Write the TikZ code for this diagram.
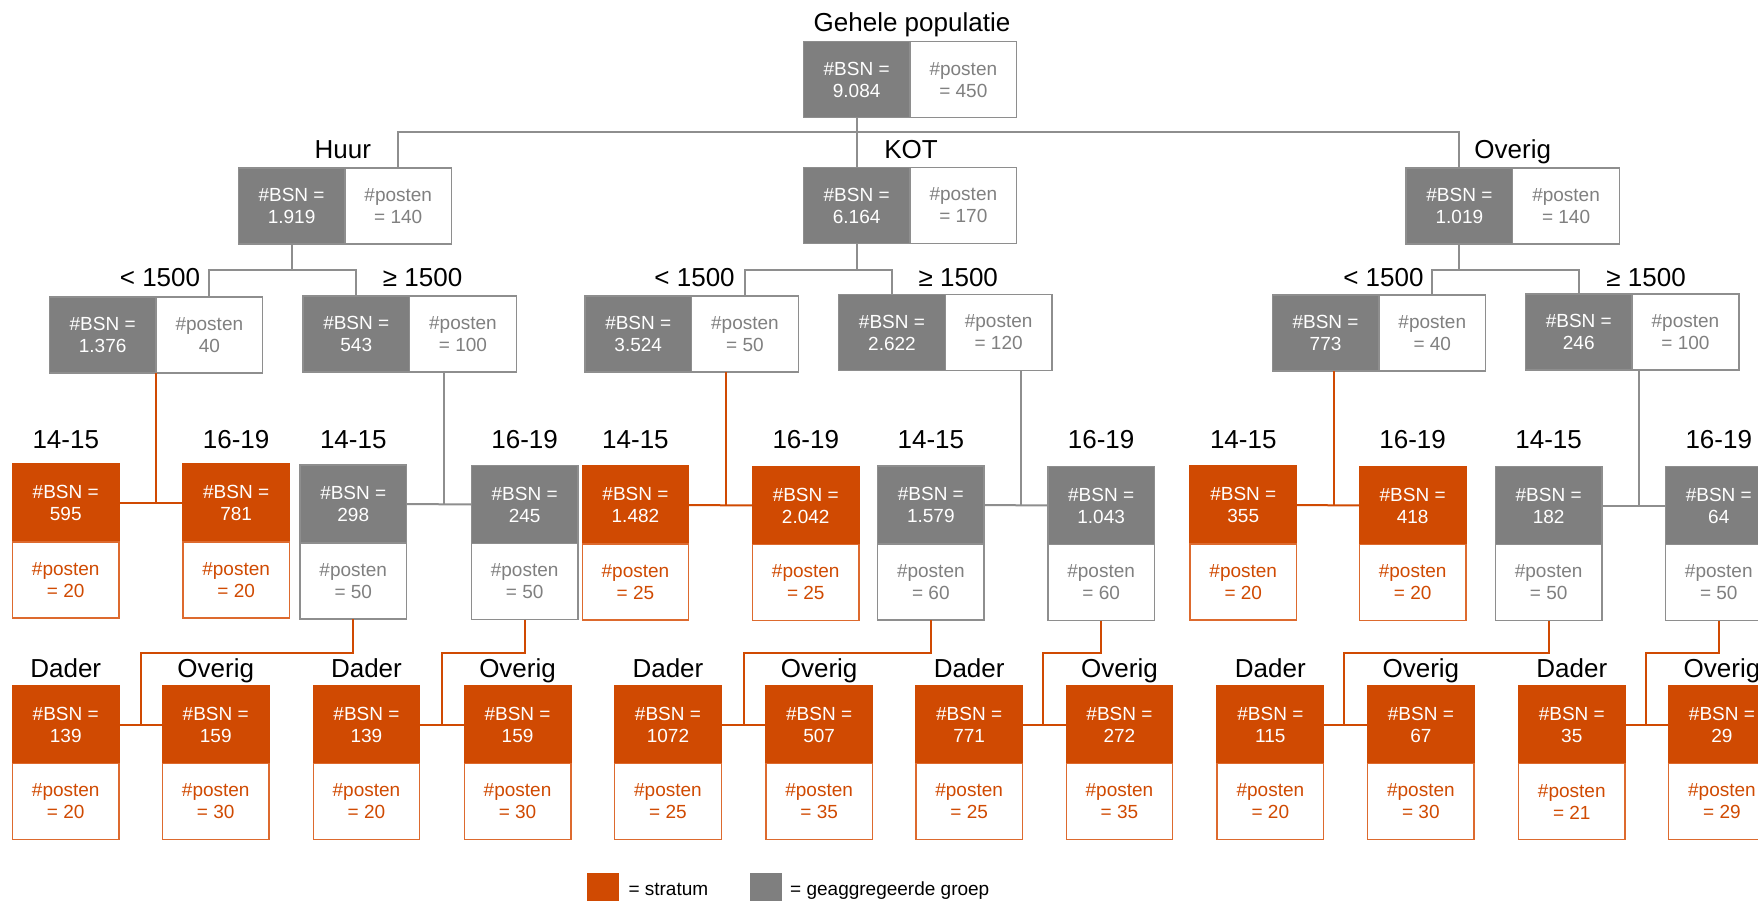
\documentclass[tikz,border=0pt]{standalone}
\usepackage{fontspec}
\setmainfont{Liberation Sans}
\usetikzlibrary{calc}
\definecolor{pwcor}{HTML}{D04A02}
\definecolor{orline}{HTML}{DD6A2E}
\definecolor{grfill}{HTML}{7F7F7F}
\definecolor{grline}{HTML}{8E8E8E}
\definecolor{grtext}{HTML}{808080}
\newcommand{\boxfont}{\fontsize{19}{22}\selectfont}
\newcommand{\labfont}{\fontsize{26}{30}\selectfont}
\tikzset{
  basebox/.style={anchor=north west, inner sep=0pt, outer sep=0pt, align=center, font=\boxfont, line width=1.4pt},
  hl/.style={basebox, fill=grfill, draw=grline, text=white, minimum width=106.7pt, minimum height=76pt},
  hr/.style={basebox, fill=white, draw=grline, text=grtext, minimum width=106.7pt, minimum height=76pt},
  vtor/.style={basebox, fill=pwcor, draw=pwcor, text=white, minimum width=106.5pt, minimum height=78pt},
  vbor/.style={basebox, fill=white, draw=orline, text=pwcor, minimum width=106.5pt, minimum height=76pt},
  vtgr/.style={basebox, fill=grfill, draw=grline, text=white, minimum width=106.5pt, minimum height=78pt},
  vbgr/.style={basebox, fill=white, draw=grline, text=grtext, minimum width=106.5pt, minimum height=76pt},
  lab/.style={anchor=base, inner sep=0pt, outer sep=0pt, font=\labfont, text=black},
  gline/.style={draw=grline, line width=2pt},
  oline/.style={draw=pwcor, line width=2pt},
  legsq/.style={basebox, minimum width=32pt, minimum height=32pt},
  legtx/.style={anchor=base west, inner sep=0pt, font=\boxfont, text=black},
}
% horizontal split box: name, x, y, bsn, posten
\newcommand{\mkH}[5]{%
  \node[hl] (#1-l) at (#2,#3) {\#BSN =\\#4};
  \node[hr] (#1-r) at (#1-l.north east) {\#posten\\#5};
}
% vertical split box: name, x, y, kind (or/gr), bsn, posten
\newcommand{\mkV}[6]{%
  \node[vt#4] (#1-t) at (#2,#3) {\#BSN =\\#5};
  \node[vb#4] (#1-b) at (#1-t.south west) {\#posten\\= #6};
}
\begin{document}
\begin{tikzpicture}[x=1pt,y=-1pt]
\useasboundingbox (0,0) rectangle (1758,901);
\clip (0,0) rectangle (1758,901);
% row coordinates
\coordinate (yT) at (0,32);
\coordinate (bar) at (0,132.5);
\coordinate (y1) at (0,159);
\coordinate (r2) at (0,270.5);
\coordinate (y2) at (0,287);
\coordinate (yA) at (0,448);
\coordinate (yD) at (0,677);

% level 0
\mkH{T}{803.3}{41.7}{9.084}{= 450}
% level 1
\mkH{Hu}{238.2}{168}{1.919}{= 140}
\mkH{K}{803.3}{167.5}{6.164}{= 170}
\mkH{Ov}{1406}{168}{1.019}{= 140}
% level 2
\mkH{Hl}{49.3}{297}{1.376}{40}
\mkH{Hg}{302.9}{296}{543}{= 100}
\mkH{Kl}{584.9}{296}{3.524}{= 50}
\mkH{Kg}{838.6}{294.5}{2.622}{= 120}
\mkH{Ol}{1272.2}{295}{773}{= 40}
\mkH{Og}{1525.4}{294}{246}{= 100}
% level 3
\mkV{A1}{12.5}{464}{or}{595}{20}
\mkV{A2}{182.9}{464}{or}{781}{20}
\mkV{A3}{300}{465}{gr}{298}{50}
\mkV{A4}{471.4}{465.5}{gr}{245}{50}
\mkV{B1}{582.2}{466}{or}{1.482}{25}
\mkV{B2}{752.5}{466.5}{or}{2.042}{25}
\mkV{B3}{877.6}{466}{gr}{1.579}{60}
\mkV{B4}{1047.9}{466.5}{gr}{1.043}{60}
\mkV{C1}{1190}{466}{or}{355}{20}
\mkV{C2}{1359.4}{466.5}{or}{418}{20}
\mkV{C3}{1495.4}{466.5}{gr}{182}{50}
\mkV{C4}{1665.5}{466.5}{gr}{64}{50}
% level 4
\mkV{D1}{12.5}{685.5}{or}{139}{20}
\mkV{D2}{162.5}{685.5}{or}{159}{30}
\mkV{D3}{313.2}{685.5}{or}{139}{20}
\mkV{D4}{464.3}{685.5}{or}{159}{30}
\mkV{E1}{614.7}{685.5}{or}{1072}{25}
\mkV{E2}{765.9}{685.5}{or}{507}{35}
\mkV{E3}{915.9}{685.5}{or}{771}{25}
\mkV{E4}{1066.2}{685.5}{or}{272}{35}
\mkV{F1}{1217.1}{685.5}{or}{115}{20}
\mkV{F2}{1367.6}{685.5}{or}{67}{30}
\mkV{F3}{1518.5}{685.5}{or}{35}{21}
\mkV{F4}{1668.7}{685.5}{or}{29}{29}

% connectors level 0 -> 1
\draw[gline] (T-l.south) -- (K-l.north);
\draw[gline] (Hu-r.north) |- (Ov-l.north |- bar) -- (Ov-l.north);
% level 1 -> 2
\draw[gline] (Hu-l.south) -- (Hu-l.south |- r2);
\draw[gline] (Hl-r.north) |- (Hg-l.north |- r2) -- (Hg-l.north);
\draw[gline] (K-l.south) -- (K-l.south |- r2);
\draw[gline] (Kl-r.north) |- (Kg-l.north |- r2) -- (Kg-l.north);
\draw[gline] (Ov-l.south) -- (Ov-l.south |- r2);
\draw[gline] (Ol-r.north) |- (Og-l.north |- r2) -- (Og-l.north);
% level 2 -> 3
\coordinate (jA12) at ($(A1-t.east)!0.58!(A2-t.west)$);
\coordinate (jA34) at ($(A3-t.east)!0.58!(A4-t.west)$);
\coordinate (jB12) at ($(B1-t.east)!0.58!(B2-t.west)$);
\coordinate (jB34) at ($(B3-t.east)!0.58!(B4-t.west)$);
\coordinate (jC12) at ($(C1-t.east)!0.59!(C2-t.west)$);
\coordinate (jC34) at ($(C3-t.east)!0.585!(C4-t.west)$);
\draw[oline] (A1-t.east) -- (A2-t.west);
\draw[oline] (jA12 |- Hl-l.south) -- (jA12);
\draw[gline] (A3-t.east) -- (A4-t.west);
\draw[gline] (jA34 |- Hg-l.south) -- (jA34);
\draw[oline] (B1-t.east) -- (B2-t.west);
\draw[oline] (jB12 |- Kl-l.south) -- (jB12);
\draw[gline] (B3-t.east) -- (B4-t.west);
\draw[gline] (jB34 |- Kg-l.south) -- (jB34);
\draw[oline] (C1-t.east) -- (C2-t.west);
\draw[oline] (jC12 |- Ol-l.south) -- (jC12);
\draw[gline] (C3-t.east) -- (C4-t.west);
\draw[gline] (jC34 |- Og-l.south) -- (jC34);
% level 3 -> 4
\coordinate (jD12) at ($(D1-t.east)!0.5!(D2-t.west)$);
\coordinate (jD34) at ($(D3-t.east)!0.5!(D4-t.west)$);
\coordinate (jE12) at ($(E1-t.east)!0.52!(E2-t.west)$);
\coordinate (jE34) at ($(E3-t.east)!0.47!(E4-t.west)$);
\coordinate (jF12) at ($(F1-t.east)!0.47!(F2-t.west)$);
\coordinate (jF34) at ($(F3-t.east)!0.49!(F4-t.west)$);
\draw[oline] (D1-t.east) -- (D2-t.west);
\draw[oline] (A3-b.south) -- ++(0,34) -| (jD12);
\draw[oline] (D3-t.east) -- (D4-t.west);
\draw[oline] (A4-b.south) -- ++(0,33) -| (jD34);
\draw[oline] (E1-t.east) -- (E2-t.west);
\draw[oline] (B3-b.south) -- ++(0,33) -| (jE12);
\draw[oline] (E3-t.east) -- (E4-t.west);
\draw[oline] (B4-b.south) -- ++(0,32.5) -| (jE34);
\draw[oline] (F1-t.east) -- (F2-t.west);
\draw[oline] (C3-b.south) -- ++(0,32.5) -| (jF12);
\draw[oline] (F3-t.east) -- (F4-t.west);
\draw[oline] (C4-b.south) -- ++(0,32.5) -| (jF34);

% labels
\node[lab] (LT) at ($(T-l.north east |- yT)+(2,0)$) {Gehele populatie};
\node[lab] (LHu) at ($(Hu-l.north east |- y1)+(-2,0)$) {Huur};
\node[lab] (LK) at ($(K-l.north east |- y1)+(1,0)$) {KOT};
\node[lab] (LOv) at (Ov-l.north east |- y1) {Overig};
\node[lab] (LHl) at ($(Hl-l.north east |- y2)+(4,0)$) {< 1500};
\node[lab] (LHg) at ($(Hg-l.north east |- y2)+(13,0)$) {≥ 1500};
\node[lab] (LKl) at ($(Kl-l.north east |- y2)+(3,0)$) {< 1500};
\node[lab] (LKg) at ($(Kg-l.north east |- y2)+(13,0)$) {≥ 1500};
\node[lab] (LOl) at ($(Ol-l.north east |- y2)+(4.5,0)$) {< 1500};
\node[lab] (LOg) at ($(Og-l.north east |- y2)+(14,0)$) {≥ 1500};
\foreach \n/\t in {A1/14-15, A2/16-19, A3/14-15, A4/16-19, B1/14-15, B2/16-19, B3/14-15, B4/16-19, C1/14-15, C2/16-19, C3/14-15, C4/16-19}{
  \node[lab] (L\n) at (\n-t.north |- yA) {\t};
}
\foreach \n/\t in {D1/Dader, D2/Overig, D3/Dader, D4/Overig, E1/Dader, E2/Overig, E3/Dader, E4/Overig, F1/Dader, F2/Overig, F3/Dader, F4/Overig}{
  \node[lab] (L\n) at (\n-t.north |- yD) {\t};
}

% legend
\node[legsq, fill=pwcor] (legO) at (587.3,873.3) {};
\node[legtx] (legOt) at (628.3,895) {= stratum};
\node[legsq, fill=grfill] (legG) at (750,873.3) {};
\node[legtx] (legGt) at (790,895) {= geaggregeerde groep};
\end{tikzpicture}
\end{document}
